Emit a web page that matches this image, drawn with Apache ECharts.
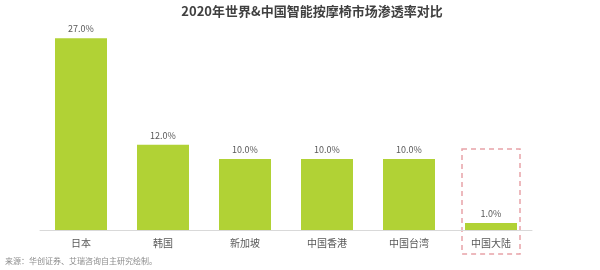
<!DOCTYPE html>
<html><head><meta charset="utf-8">
<script src="https://cdn.jsdelivr.net/npm/echarts@6/dist/echarts.min.js"></script>
<style>html,body{margin:0;padding:0;background:#fff}#c{width:600px;height:270px}</style>
</head><body><div id="c"></div>
<script>
const categories = ['日本','韩国','新加坡','中国香港','中国台湾','中国大陆'];
const values = [27.0, 12.0, 10.0, 10.0, 10.0, 1.0];
const titleText = '2020年世界&中国智能按摩椅市场渗透率对比';
const sourceText = '来源：华创证券、艾瑞咨询自主研究绘制。';
const highlightCategory = '中国大陆';

const font = '"Noto Sans CJK SC", "Noto Sans", sans-serif';
const chart = echarts.init(document.getElementById('c'), null, {renderer:'canvas'});
chart.setOption({
  animation:false,
  title:{text:titleText,left:307,textAlign:'center',top:0,textStyle:{fontFamily:font,fontSize:13,fontWeight:'bold',color:'#404040'}},
  grid:{left:40,right:68,top:17,bottom:40},
  xAxis:{type:'category',data:categories,axisLine:{lineStyle:{color:'#d9d9d9',width:1}},axisTick:{show:false},
    axisLabel:{fontFamily:font,fontSize:10,color:'#595959',margin:8}},
  yAxis:{type:'value',min:0,max:30,show:false,splitLine:{show:false}},
  series:[{type:'bar',data:values,barWidth:52,itemStyle:{color:'#b1d235'},
    label:{show:true,position:'top',distance:5,fontFamily:font,fontSize:9,color:'#595959',formatter:p=>p.value.toFixed(1)+'%'}}],
  graphic:[{type:'text',left:5,top:257,style:{text:sourceText,fontFamily:font,fontSize:8,fill:'#8c8c8c'}}]
});
const idx = categories.indexOf(highlightCategory);
const p0 = chart.convertToPixel({gridIndex:0},[idx,0]);
const p1 = chart.convertToPixel({gridIndex:0},[idx,values[idx]]);
const halfW = 29;
chart.setOption({graphic:[{type:'text',left:5,top:257,style:{text:sourceText,fontFamily:font,fontSize:8,fill:'#8c8c8c'}},
  {type:'rect',shape:{x:p0[0]-halfW,y:p1[1]-74,width:halfW*2,height:(p0[1]-p1[1])+74+24},
   style:{fill:'none',stroke:'#e8a3a8',lineWidth:1.5,lineDash:[5,4]}}]});
</script></body></html>
